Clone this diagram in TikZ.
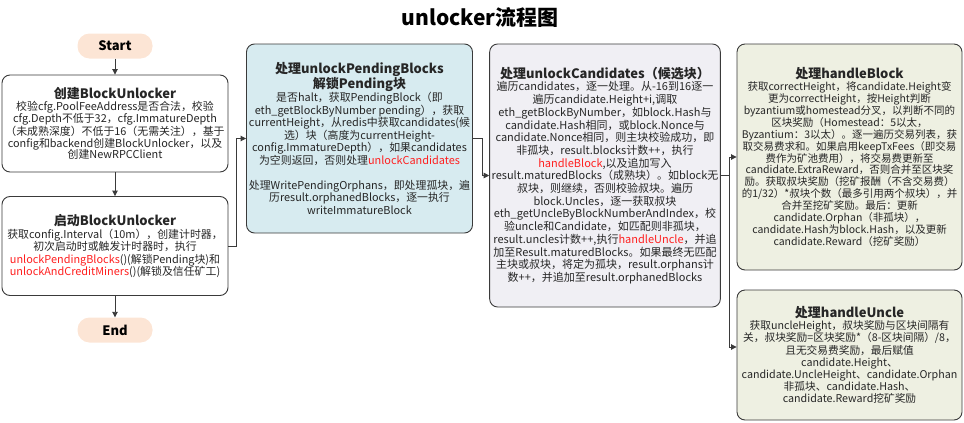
\documentclass[tikz,border=0pt]{standalone}
\usepackage{fontspec}
\setmainfont{Noto Sans CJK SC}
\usetikzlibrary{arrows.meta,calc}
\definecolor{edge}{HTML}{3A3A3A}
\definecolor{redtxt}{HTML}{FF2020}
\definecolor{bluefill}{HTML}{D7EBF0}
\definecolor{lavfill}{HTML}{F0EFF4}
\definecolor{greenfill}{HTML}{EEF0E2}
\definecolor{peach}{HTML}{FCE5D5}
\newcommand{\rd}[1]{\textcolor{redtxt}{#1}}
\tikzset{
  box/.style={draw=edge, line width=0.9pt, rounded corners=8pt, align=center,
    inner sep=2pt, text=black!85,
    font=\fontsize{10.9}{11.9}\selectfont},
  term/.style={fill=peach, draw=none, rounded corners=12pt, minimum width=75pt,
    minimum height=25pt, font=\fontsize{13}{15}\bfseries},
  conn/.style={draw=edge, line width=0.9pt, -{Triangle[length=5.5pt,width=5.5pt]}},
}
\newcommand{\ttl}[1]{{\fontsize{13}{14.5}\bfseries #1}}
\begin{document}
\begin{tikzpicture}[x=1pt,y=-1pt]
\useasboundingbox (0,0) rectangle (964,423);
\node[font=\fontsize{21}{24}\bfseries] (title) at (480,17) {unlocker流程图};

\node[term] (start) at (115,46) {Start};
\node[term] (end) at (115,330) {End};

\node[box, fill=white, minimum width=226pt, minimum height=97pt] (b1) at (115,123.5) {%
\ttl{创建BlockUnlocker}\\
校验cfg.PoolFeeAddress是否合法，校验\\
cfg.Depth不低于32，cfg.ImmatureDepth\\
（未成熟深度）不低于16（无需关注），基于\\
config和backend创建BlockUnlocker，以及\\
创建NewRPCClient};

\node[box, fill=white, minimum width=226pt, minimum height=99pt, font=\fontsize{10.9}{12.5}\selectfont] (b2) at (115,246) {%
\ttl{启动BlockUnlocker}\\
获取config.Interval（10m），创建计时器，\\
初次启动时或触发计时器时，执行\\
\rd{unlockPendingBlocks}()(解锁Pending块)和\\
\rd{unlockAndCreditMiners}()(解锁及信任矿工)};

\node[box, fill=bluefill, minimum width=226pt, minimum height=189pt, font=\fontsize{10.9}{12.6}\selectfont] (b3) at (359.5,138.5) {%
\ttl{处理unlockPendingBlocks}\\
\ttl{解锁Pending块}\\
是否halt，获取PendingBlock（即\\
eth\_getBlockByNumber pending），获取\\
currentHeight，从redis中获取candidates(候\\
选）块（高度为currentHeight-\\
config.ImmatureDepth），如果candidates\\
为空则返回，否则处理\rd{unlockCandidates}\\[12pt]
处理WritePendingOrphans，即处理孤块，遍\\
历result.orphanedBlocks，逐一执行\\
writeImmatureBlock};

\node[box, fill=lavfill, minimum width=229pt, minimum height=263pt, font=\fontsize{11}{12.7}\selectfont] (b4) at (605,175.5) {%
\ttl{处理unlockCandidates（候选块）}\\
遍历candidates，逐一处理。从-16到16逐一\\
遍历candidate.Height+i,调取\\
eth\_getBlockByNumber，如block.Hash与\\
candidate.Hash相同，或block.Nonce与\\
candidate.Nonce相同，则主块校验成功，即\\
非孤块，result.blocks计数++，执行\\
\rd{handleBlock},以及追加写入\\
result.maturedBlocks（成熟块）。如block无\\
叔块，则继续，否则校验叔块。遍历\\
block.Uncles，逐一获取叔块\\
eth\_getUncleByBlockNumberAndIndex，校\\
验uncle和Candidate，如匹配则非孤块，\\
result.uncles计数++,执行\rd{handleUncle}，并追\\
加至Result.maturedBlocks。如果最终无匹配\\
主块或叔块，将定为孤块，result.orphans计\\
数++，并追加至result.orphanedBlocks};

\node[box, fill=greenfill, minimum width=225pt, minimum height=226pt, font=\fontsize{10.5}{11.9}\selectfont] (b5) at (849.5,157) {%
\ttl{处理handleBlock}\\
获取correctHeight，将candidate.Height变\\
更为correctHeight，按Height判断\\
byzantium或homestead分叉，以判断不同的\\
区块奖励（Homestead：5以太，\\
Byzantium：3以太）。逐一遍历交易列表，获\\
取交易费求和。如果启用keepTxFees（即交易\\
费作为矿池费用），将交易费更新至\\
candidate.ExtraReward，否则合并至区块奖\\
励。获取叔块奖励（挖矿报酬（不含交易费）\\
的1/32）*叔块个数（最多引用两个叔块），并\\
合并至挖矿奖励。最后：更新\\
candidate.Orphan（非孤块），\\
candidate.Hash为block.Hash，以及更新\\
candidate.Reward（挖矿奖励）};

\node[box, fill=greenfill, minimum width=225pt, minimum height=130pt, font=\fontsize{10.7}{12.2}\selectfont] (b6) at (849.5,355) {%
\ttl{处理handleUncle}\\
获取uncleHeight，叔块奖励与区块间隔有\\
关，叔块奖励=区块奖励*（8-区块间隔）/8，\\
且无交易费奖励，最后赋值\\
candidate.Height、\\
candidate.UncleHeight、candidate.Orphan\\
非孤块、candidate.Hash、\\
candidate.Reward挖矿奖励};

\draw[conn] (start) -- (b1);
\draw[conn] (b1) -- (b2);
\draw[conn] (b2) -- (end);
\draw[conn] (b2.east) -- ++(8,0) |- (b3.west);
\draw[conn] (b3.east) -- ++(9,0) |- (b4.west);
\coordinate (fork) at ($(b4.east)+(9,0)$);
\coordinate (b6in) at ($(b6.west)+(0,-8)$);
\draw[edge, line width=0.9pt] (b4.east) -- (fork);
\draw[conn] (fork) |- (b5.west);
\draw[conn] (fork) |- (b6in);
\end{tikzpicture}
\end{document}
